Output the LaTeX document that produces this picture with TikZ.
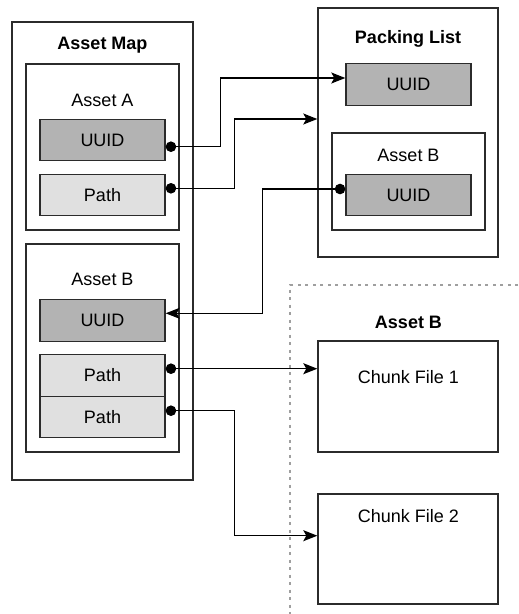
\documentclass[tikz,border=0pt]{standalone}
\usepackage{fontspec}
\setmainfont{Liberation Sans}
\usetikzlibrary{arrows.meta,calc}
\definecolor{uuidfill}{HTML}{B3B3B3}
\definecolor{pathfill}{HTML}{E0E0E0}
\definecolor{edge}{HTML}{2B2B2B}
\begin{document}
\begin{tikzpicture}[x=1pt,y=-1pt,
  every node/.style={font=\fontsize{18}{21}\selectfont, inner sep=0pt},
  frame/.style={draw=edge, line width=1.4pt, fill=white, minimum width=#1},
  cell/.style={draw=edge, line width=1.4pt, minimum width=125pt, minimum height=41.5pt},
  uuidcell/.style={cell, fill=uuidfill},
  pathcell/.style={cell, fill=pathfill},
  title/.style={font=\fontsize{18}{21}\selectfont\bfseries},
  conn/.style={draw=black, line width=1.3pt, {Circle[length=10.5pt,width=10.5pt]}-{Stealth[length=14pt,width=11pt,inset=3pt]}},
  dotbox/.style={draw=gray!75, line width=1.3pt, dash pattern=on 3pt off 4.5pt}]
\useasboundingbox (0,0) rectangle (519,614);

% dotted region
\draw[dotbox] (518,285) -- (290,285) -- (290,614);

% Asset Map
\node[frame=181pt, minimum height=458pt] (assetmap) at (102.5,251) {};
\node[title] (assetmaptitle) at (102.5,45) {Asset Map};
\node[frame=153pt, minimum height=166pt] (assetA) at (102.5,147) {};
\node (assetAtitle) at (102.5,100) {Asset A};
\node[uuidcell] (uuidA) at (102.5,140) {UUID};
\node[pathcell] (pathA) at (102.5,195) {Path};
\node[frame=153pt, minimum height=208pt] (assetBm) at (102.5,348) {};
\node (assetBmtitle) at (102.5,279) {Asset B};
\node[uuidcell] (uuidBm) at (102.5,320.5) {UUID};
\node[pathcell] (path1) at (102.5,375.5) {Path};
\node[pathcell] (path2) at (102.5,417) {Path};

% Packing List
\node[frame=180pt, minimum height=249pt] (packing) at (408,132.5) {};
\node[title] (packingtitle) at (408,39) {Packing List};
\node[uuidcell] (uuidPL) at (408.5,84.5) {UUID};
\node[frame=153pt, minimum height=97pt] (assetBpl) at (408.5,181.5) {};
\node (assetBpltitle) at (408.5,155) {Asset B};
\node[uuidcell] (uuidBpl) at (408.5,195) {UUID};

% Asset B chunks
\node[title] (assetBtitle) at (408.5,322) {Asset B};
\node[frame=180pt, minimum height=111pt] (chunk1) at (408,396.5) {};
\node (chunk1text) at (408.5,377) {Chunk File 1};
\node[frame=180pt, minimum height=110pt] (chunk2) at (408,549) {};
\node (chunk2text) at (408.5,516) {Chunk File 2};

% connectors
\draw[conn] ([yshift=-6.7pt]uuidA.east) -- ++(55,0) |- ([yshift=6.5pt]uuidPL.west);
\draw[conn] ([yshift=6.7pt]pathA.east) -- ++(68.6,0) |- ([yshift=13.5pt]packing.west);
\draw[conn] ([yshift=6pt]uuidBpl.west) -- ++(-83,0) |- ([yshift=7.2pt]uuidBm.east);
\coordinate (p1s) at ([yshift=6.8pt]path1.east);
\draw[conn] (p1s) -- (p1s -| chunk1.west);
\draw[conn] ([yshift=6.3pt]path2.east) -- ++(68.6,0) |- ([yshift=13.3pt]chunk2.west);
\end{tikzpicture}
\end{document}
